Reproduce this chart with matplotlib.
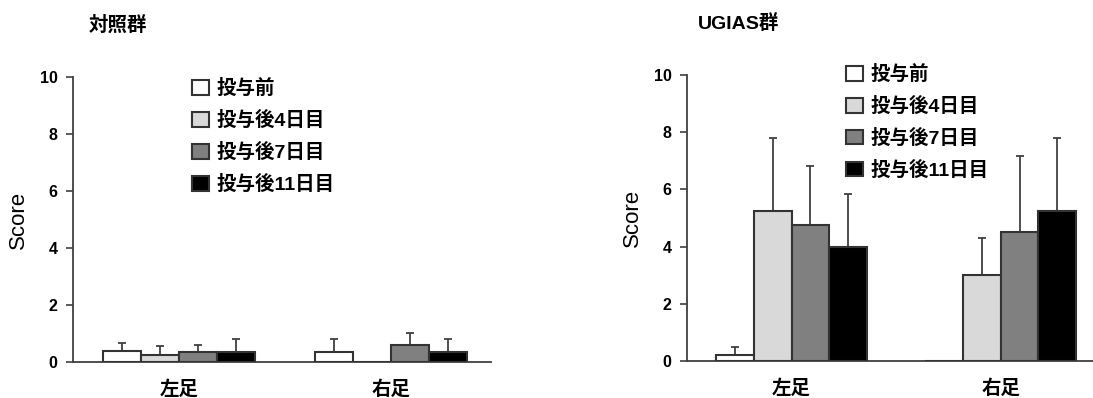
import numpy as np
import matplotlib
matplotlib.use("Agg")
import matplotlib.pyplot as plt

plt.rcParams['font.family'] = ['Liberation Sans', 'Noto Sans CJK JP', 'DejaVu Sans']

sides = ['左足', '右足']
labels = ['投与前', '投与後4日目', '投与後7日目', '投与後11日目']
colors = ['#ffffff', '#d9d9d9', '#808080', '#000000']

# one row per time point, columns = [左足, 右足]
ctrl_mean = [[0.4, 0.35], [0.25, 0.0], [0.35, 0.6], [0.35, 0.35]]
ctrl_sd = [[0.25, 0.45], [0.3, 0.0], [0.25, 0.4], [0.45, 0.45]]
ugias_mean = [[0.2, 0.0], [5.25, 3.0], [4.75, 4.5], [4.0, 5.25]]
ugias_sd = [[0.3, 0.0], [2.55, 1.3], [2.05, 2.65], [1.85, 2.55]]

edge = '#333333'
width = 0.18

fig = plt.figure(figsize=(10.93, 3.98), dpi=100)
ax1 = fig.add_axes([0.0668, 0.0905, 0.382, 0.716])
ax2 = fig.add_axes([0.6285, 0.093, 0.377, 0.719])


def draw(ax, means, sds, leg_xy):
    x = np.arange(len(sides))
    for i in range(len(labels)):
        m = np.array(means[i])
        s = np.array(sds[i])
        pos = x + (i - 1.5) * width
        ax.bar(pos, m, width, color=colors[i], edgecolor=edge, linewidth=1.5,
               label=labels[i], zorder=3)
        ok = s > 0
        ax.errorbar(pos[ok], m[ok], yerr=[np.zeros(ok.sum()), s[ok]], fmt='none',
                    ecolor='#404040', elinewidth=1.3, capsize=3, capthick=1.3, zorder=2)
    ax.set_xlim(-0.5, 1.47)
    ax.set_ylim(0, 10)
    ax.set_yticks(range(0, 11, 2))
    ax.set_xticks(x, sides, fontsize=14, fontweight='bold')
    ax.tick_params(axis='x', length=0, pad=13)
    ax.tick_params(axis='y', length=5, width=1.2, color='#404040', labelsize=11.5, pad=6)
    for t in ax.get_yticklabels():
        t.set_fontweight('bold')
    for sp in ['top', 'right']:
        ax.spines[sp].set_visible(False)
    for sp in ['left', 'bottom']:
        ax.spines[sp].set_color('#404040')
        ax.spines[sp].set_linewidth(1.3)
    ax.set_ylabel('Score', fontsize=16, labelpad=8)
    ax.legend(loc='upper left', bbox_to_anchor=leg_xy, frameon=False,
              prop={'size': 14, 'weight': 'bold'},
              handlelength=0.85, handleheight=0.8, handletextpad=0.4,
              labelspacing=0.66, borderpad=0, borderaxespad=0)


draw(ax1, ctrl_mean, ctrl_sd, (0.285, 0.993))
draw(ax2, ugias_mean, ugias_sd, (0.386, 1.035))

fig.text(0.0814, 0.937, '対照群', fontsize=14, fontweight='bold', va='center', ha='left')
fig.text(0.6386, 0.94, 'UGIAS群', fontsize=14, fontweight='bold', va='center', ha='left')

fig.savefig('out.png', dpi=100)
